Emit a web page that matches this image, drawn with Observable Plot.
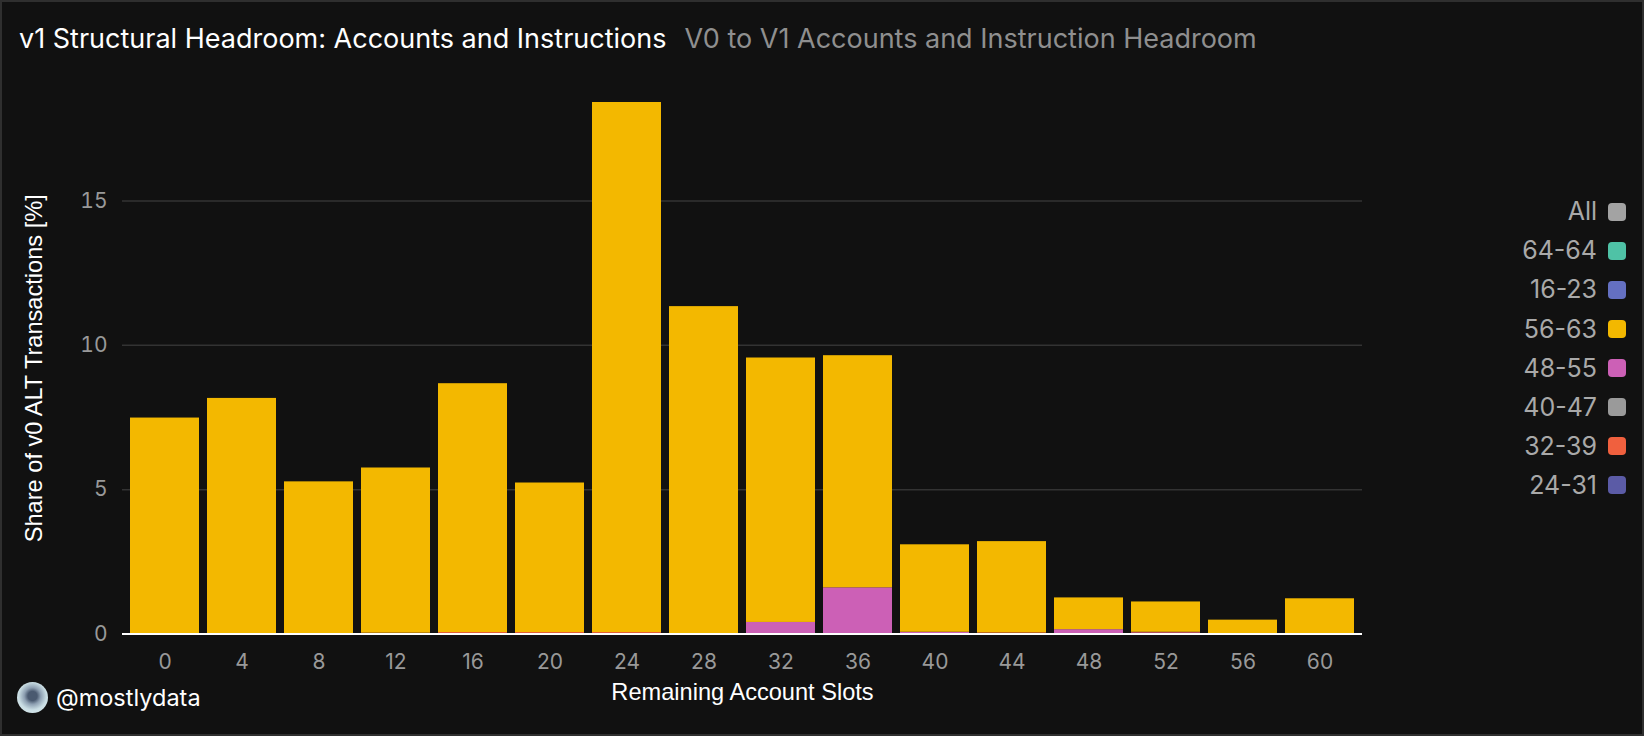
<!DOCTYPE html>
<html>
<head>
<meta charset="utf-8">
<script src="https://cdn.jsdelivr.net/npm/d3@7"></script>
<script src="https://cdn.jsdelivr.net/npm/@observablehq/plot@0.6"></script>
<style>
  html, body { margin: 0; padding: 0; background: #111111; }
  #wrap { position: relative; width: 1644px; height: 736px; background: #111111; overflow: hidden; font-family: Inter, "Noto Sans", sans-serif; }
  #chart { position: absolute; left: 0; top: 0; }
  #frame { position: absolute; left: 0; top: 0; width: 1644px; height: 736px; box-sizing: border-box; border: 2px solid #2f2f2f; pointer-events: none; }
  #title { position: absolute; left: 19px; top: 25px; font-size: 27px; line-height: 27px; color: #ffffff; white-space: nowrap; }
  #title .sub { color: #8f8f8f; margin-left: 18px; }
  #legend { position: absolute; right: 18px; top: 0; }
  .row { position: absolute; right: 0; height: 25px; display: flex; align-items: center; gap: 11px; font-size: 25px; line-height: 25px; color: #a9a9a9; white-space: nowrap; }
  .sw { width: 18px; height: 18px; border-radius: 4px; }
  #credit { position: absolute; left: 17px; top: 682px; display: flex; align-items: center; gap: 8px; color: #fff; font-size: 23.5px; line-height: 23.5px; }
  #avatar { width: 31px; height: 31px; border-radius: 50%; background: radial-gradient(circle at 50% 45%, #4a5a70 0 20%, #8ea0b2 36%, #c9dde3 60%, #e3f0f2 100%); }
</style>
</head>
<body>
<div id="wrap">
  <div id="chart"></div>
  <div id="title">v1 Structural Headroom: Accounts and Instructions<span class="sub">V0 to V1 Accounts and Instruction Headroom</span></div>
  <div id="legend"></div>
  <div id="credit"><div id="avatar"></div><span>@mostlydata</span></div>
  <div id="frame"></div>
</div>
<script>
// Remaining account slots (x categories)
const slots = [0, 4, 8, 12, 16, 20, 24, 28, 32, 36, 40, 44, 48, 52, 56, 60];

// Series values (share of v0 ALT transactions, %), stacked bottom-first
const s24_31 = [0, 0, 0, 0, 0, 0, 0, 0, 0, 0, 0, 0, 0, 0, 0, 0];
const s32_39 = [0, 0, 0, 0.03, 0.05, 0.05, 0.05, 0, 0, 0, 0, 0.04, 0, 0.04, 0, 0];
const s40_47 = [0, 0, 0, 0, 0, 0, 0, 0, 0, 0, 0, 0, 0, 0, 0, 0];
const s48_55 = [0, 0, 0, 0, 0, 0, 0, 0, 0.40, 1.60, 0.06, 0, 0.15, 0.02, 0, 0];
const s56_63 = [7.48, 8.16, 5.27, 5.72, 8.62, 5.18, 18.36, 11.34, 9.16, 8.04, 3.03, 3.16, 1.10, 1.05, 0.48, 1.22];
const s16_23 = [0, 0, 0, 0, 0, 0, 0, 0, 0, 0, 0, 0, 0, 0, 0, 0];
const s64_64 = [0, 0, 0, 0, 0, 0, 0, 0, 0, 0, 0, 0, 0, 0, 0, 0];
const sAll   = [0, 0, 0, 0, 0, 0, 0, 0, 0, 0, 0, 0, 0, 0, 0, 0];

const seriesNames = ["24-31", "32-39", "40-47", "48-55", "56-63", "16-23", "64-64", "All"];
const seriesValues = [s24_31, s32_39, s40_47, s48_55, s56_63, s16_23, s64_64, sAll];
const seriesColors = ["#5b5ba6", "#f0603e", "#9a9a9a", "#cc60b6", "#f3b800", "#6470c2", "#4fc2a6", "#a3a3a3"];

// Legend order (top to bottom)
const legendOrder = ["All", "64-64", "16-23", "56-63", "48-55", "40-47", "32-39", "24-31"];

const yTicks = [0, 5, 10, 15];

const data = [];
seriesNames.forEach((name, si) => {
  slots.forEach((s, i) => data.push({slot: s, series: name, value: seriesValues[si][i]}));
});

const plot = Plot.plot({
  width: 1644,
  height: 736,
  marginLeft: 122,
  marginRight: 282,
  marginTop: 102,
  marginBottom: 102.5,
  style: {background: "transparent", color: "#999999", fontFamily: "Inter, sans-serif"},
  x: {type: "band", domain: slots, padding: 0.1, label: null},
  y: {label: null},
  color: {domain: seriesNames, range: seriesColors},
  marks: [
    Plot.gridY([5, 10, 15], {stroke: "#333333", strokeOpacity: 1, strokeWidth: 1.5}),
    Plot.barY(data, {x: "slot", y: "value", fill: "series"}),
    Plot.ruleY([0], {stroke: "#ffffff", strokeWidth: 2}),
    Plot.axisY({ticks: yTicks, tickSize: 0, tickPadding: 15, fontSize: 21, fill: "#999999", label: null}),
    Plot.axisX({tickSize: 0, tickPadding: 20, fontSize: 21, fill: "#999999", label: null}),
    Plot.text(["Share of v0 ALT Transactions [%]"], {frameAnchor: "left", dx: -88.5, rotate: -90, textAnchor: "middle", lineAnchor: "middle", fontSize: 23.6, fill: "#ffffff", fontFamily: "'Liberation Sans', Arial, sans-serif"}),
    Plot.text(["Remaining Account Slots"], {frameAnchor: "bottom", dy: 58.5, textAnchor: "middle", lineAnchor: "middle", fontSize: 23.6, fill: "#ffffff", fontFamily: "'Liberation Sans', Arial, sans-serif"})
  ]
});
document.getElementById("chart").appendChild(plot);

// Legend
const legend = document.getElementById("legend");
legendOrder.forEach((name, i) => {
  const row = document.createElement("div");
  row.className = "row";
  row.style.top = (211.7 + 39.1 * i - 12.5) + "px";
  const lab = document.createElement("span");
  lab.textContent = name;
  const sw = document.createElement("div");
  sw.className = "sw";
  sw.style.background = seriesColors[seriesNames.indexOf(name)];
  row.appendChild(lab);
  row.appendChild(sw);
  legend.appendChild(row);
});
</script>
</body>
</html>
